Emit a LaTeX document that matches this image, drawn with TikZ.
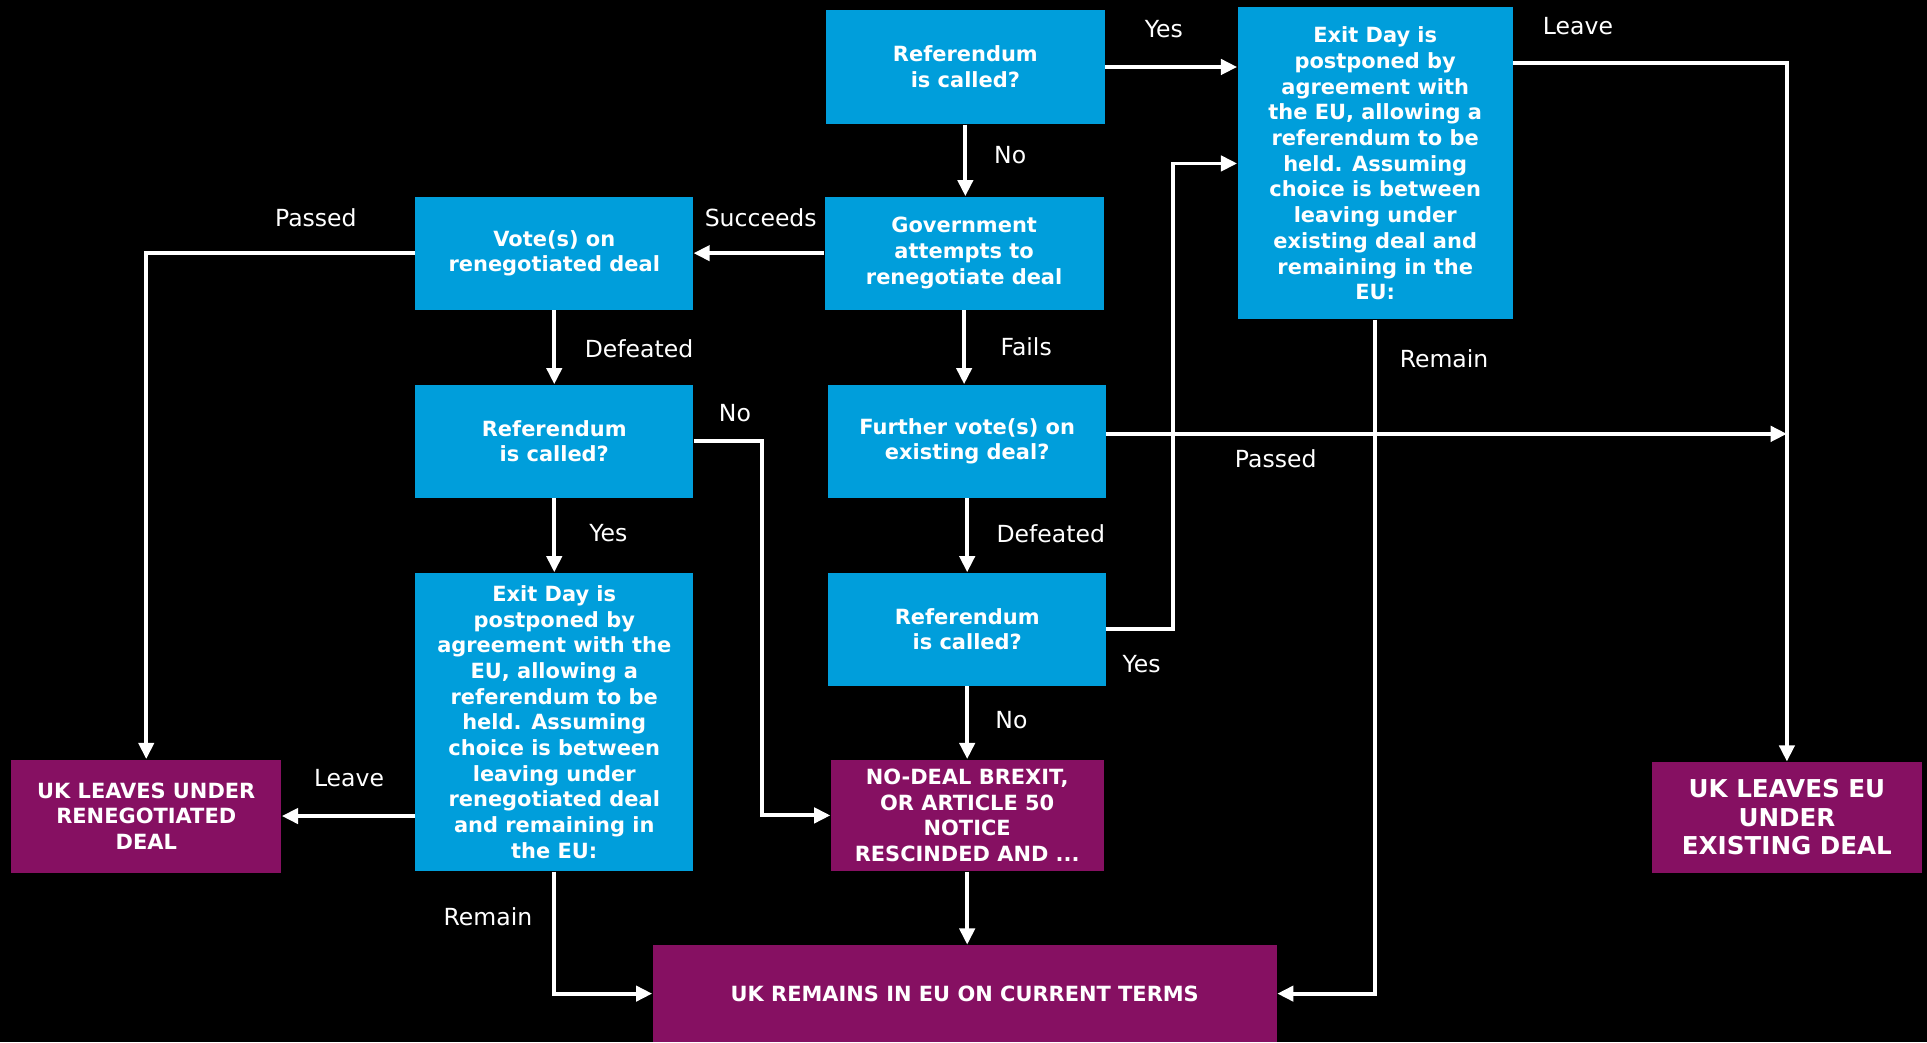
\documentclass[tikz,border=0pt]{standalone}
\usepackage{fontspec}
\setmainfont{DejaVu Sans}
\usetikzlibrary{arrows.meta}
\definecolor{ukblue}{RGB}{0,158,219}
\definecolor{ukpurple}{RGB}{134,16,98}

\begin{document}
\begin{tikzpicture}[x=0.02cm, y=-0.02cm,
    box/.style={fill=ukblue, text=white, align=center, inner sep=0pt, font=\fontsize{9.7}{11.9}\selectfont\bfseries},
    outcome/.style={box, fill=ukpurple},
    link/.style={draw=white, line width=1.8pt, -{Triangle[length=7.5pt,width=7pt]}},
    lbl/.style={text=white, inner sep=0pt, font=\fontsize{10.9}{13}\selectfont}]
    \fill[black] (0,0) rectangle (1568,848);
    % decision boxes
    \node[box, minimum width=4.54cm, minimum height=1.86cm] (ref1) at (785.5,54.5) {Referendum\\is called?};
    \node[box, minimum width=4.48cm, minimum height=5.08cm] (exitA) at (1119,133) {Exit Day is\\postponed by\\agreement with\\the EU, allowing a\\referendum to be\\held. Assuming\\choice is between\\leaving under\\existing deal and\\remaining in the\\EU:};
    \node[box, minimum width=4.54cm, minimum height=1.84cm] (gov) at (784.5,206) {Government\\attempts to\\renegotiate deal};
    \node[box, minimum width=4.52cm, minimum height=1.84cm] (vote) at (451,206) {Vote(s) on\\renegotiated deal};
    \node[box, minimum width=4.52cm, minimum height=1.84cm] (ref2) at (451,359) {Referendum\\is called?};
    \node[box, minimum width=4.52cm, minimum height=1.84cm] (further) at (787,359) {Further vote(s) on\\existing deal?};
    \node[box, minimum width=4.52cm, minimum height=4.86cm] (exitB) at (451,587.5) {Exit Day is\\postponed by\\agreement with the\\EU, allowing a\\referendum to be\\held. Assuming\\choice is between\\leaving under\\renegotiated deal\\and remaining in\\the EU:};
    \node[box, minimum width=4.52cm, minimum height=1.84cm] (ref3) at (787,512) {Referendum\\is called?};
    % outcomes
    \node[outcome, minimum width=4.4cm, minimum height=1.84cm] (leaveRen) at (119,664) {UK LEAVES UNDER\\RENEGOTIATED\\DEAL};
    \node[outcome, minimum width=4.44cm, minimum height=1.82cm] (nodeal) at (787,663.5) {NO-DEAL BREXIT,\\OR ARTICLE 50\\NOTICE\\RESCINDED AND ...};
    \node[outcome, minimum width=4.4cm, minimum height=1.8cm, font=\fontsize{11.4}{13.1}\selectfont\bfseries] (leaveEx) at (1454,665) {UK LEAVES EU\\UNDER\\EXISTING DEAL};
    \node[outcome, minimum width=10.16cm, minimum height=1.58cm] (remain) at (785,808.5) {UK REMAINS IN EU ON CURRENT TERMS};
    % turning points
    \coordinate (furtherOut) at ([yshift=3.4pt]further.east);
    \coordinate (exitOut) at ([yshift=2pt]exitA.east |- ref1.east);
    % connectors
    \draw[link] (ref1.east) -- (ref1.east -| exitA.west);
    \draw[link] (ref1.south) -- (ref1.south |- gov.north);
    \draw[link] (gov.west) -- (vote.east);
    \draw[link] (vote.west) -| (leaveRen.north);
    \draw[link] (vote.south) -- (ref2.north);
    \draw[link] (gov.south) -- (gov.south |- further.north);
    \draw[link] (ref2.east) -- ++(56,0) |- (nodeal.west);
    \draw[link] (ref2.south) -- (exitB.north);
    \draw[link] (furtherOut) -- (furtherOut -| leaveEx.north);
    \draw[link] (further.south) -- (ref3.north);
    \draw[link] (ref3.east) -- ++(54,0) |- (exitA.west);
    \draw[link] (ref3.south) -- (nodeal.north);
    \draw[link] (exitOut) -| (leaveEx.north);
    \draw[link] (exitA.south) |- (remain.east);
    \draw[link] (exitB.west |- leaveRen.east) -- (leaveRen.east);
    \draw[link] (exitB.south) |- (remain.west);
    \draw[link] (nodeal.south) -- (nodeal.south |- remain.north);
    % connector labels
    \node[lbl] (yesA) at (947,24) {Yes};
    \node[lbl] (noA) at (822,126) {No};
    \node[lbl] (succeeds) at (619,177) {Succeeds};
    \node[lbl] (passedA) at (257,177) {Passed};
    \node[lbl] (defeatedA) at (520,284) {Defeated};
    \node[lbl] (fails) at (835,282) {Fails};
    \node[lbl] (noB) at (598,336) {No};
    \node[lbl] (yesB) at (495,434) {Yes};
    \node[lbl] (passedB) at (1038,373) {Passed};
    \node[lbl] (defeatedB) at (855,434) {Defeated};
    \node[lbl] (yesC) at (929,540) {Yes};
    \node[lbl] (noC) at (823,586) {No};
    \node[lbl] (leaveA) at (1284,21) {Leave};
    \node[lbl] (remainA) at (1175,292) {Remain};
    \node[lbl] (leaveB) at (284,633) {Leave};
    \node[lbl] (remainB) at (397,746) {Remain};
\end{tikzpicture}
\end{document}
